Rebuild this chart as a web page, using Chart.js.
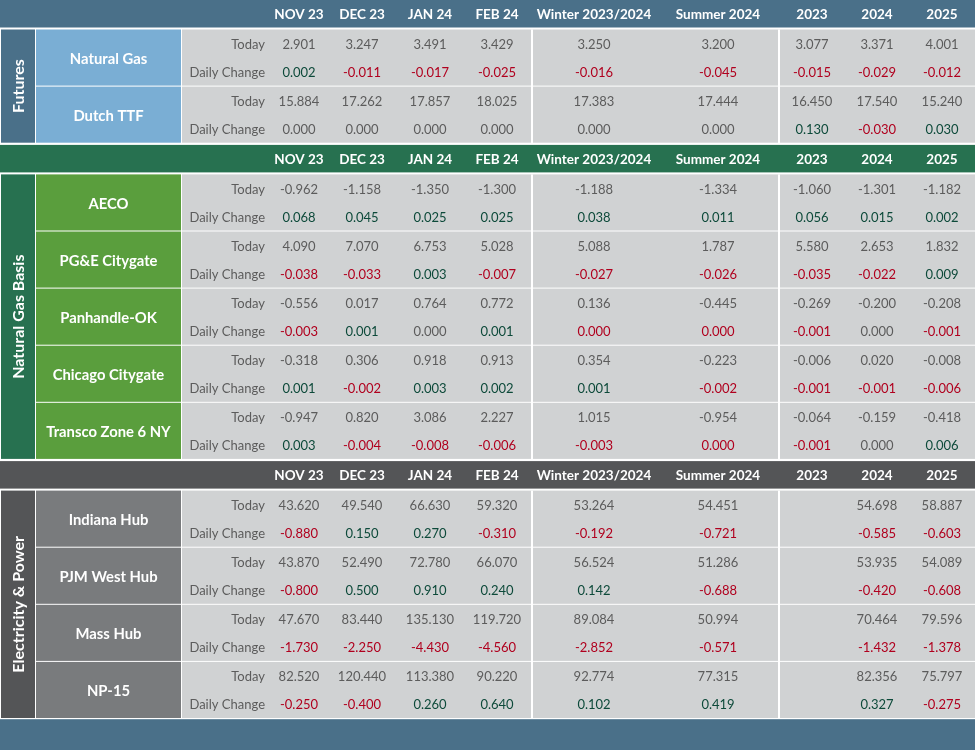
<!DOCTYPE html>
<html><head><meta charset="utf-8">
<script src="https://cdn.jsdelivr.net/npm/chart.js@4.4.0/dist/chart.umd.min.js"></script>
<style>html,body{margin:0;padding:0;background:#fff;}canvas{display:block;}</style>
</head><body>
<div style="width:975px;height:750px"><canvas id="c" width="975" height="750"></canvas></div>
<script>
// ---------- DATA ----------
const periods = ['NOV 23','DEC 23','JAN 24','FEB 24','Winter 2023/2024','Summer 2024','2023','2024','2025'];
const rowLabels = ['Today','Daily Change'];
const sectionTitles = ['Futures','Natural Gas Basis','Electricity & Power'];

const futuresNames = ['Natural Gas','Dutch TTF'];
const futuresToday = [
  [2.901,3.247,3.491,3.429,3.250,3.200,3.077,3.371,4.001],
  [15.884,17.262,17.857,18.025,17.383,17.444,16.450,17.540,15.240]
];
const futuresChange = [
  [0.002,-0.011,-0.017,-0.025,-0.016,-0.045,-0.015,-0.029,-0.012],
  [0.000,0.000,0.000,0.000,0.000,0.000,0.130,-0.030,0.030]
];

const basisNames = ['AECO','PG&E Citygate','Panhandle-OK','Chicago Citygate','Transco Zone 6 NY'];
const basisToday = [
  [-0.962,-1.158,-1.350,-1.300,-1.188,-1.334,-1.060,-1.301,-1.182],
  [4.090,7.070,6.753,5.028,5.088,1.787,5.580,2.653,1.832],
  [-0.556,0.017,0.764,0.772,0.136,-0.445,-0.269,-0.200,-0.208],
  [-0.318,0.306,0.918,0.913,0.354,-0.223,-0.006,0.020,-0.008],
  [-0.947,0.820,3.086,2.227,1.015,-0.954,-0.064,-0.159,-0.418]
];
const basisChange = [
  [0.068,0.045,0.025,0.025,0.038,0.011,0.056,0.015,0.002],
  [-0.038,-0.033,0.003,-0.007,-0.027,-0.026,-0.035,-0.022,0.009],
  [-0.003,0.001,0.000,0.001,-0.0004,-0.0004,-0.001,0.000,-0.001],
  [0.001,-0.002,0.003,0.002,0.001,-0.002,-0.001,-0.001,-0.006],
  [0.003,-0.004,-0.008,-0.006,-0.003,-0.0004,-0.001,0.000,0.006]
];

const powerNames = ['Indiana Hub','PJM West Hub','Mass Hub','NP-15'];
const powerToday = [
  [43.620,49.540,66.630,59.320,53.264,54.451,null,54.698,58.887],
  [43.870,52.490,72.780,66.070,56.524,51.286,null,53.935,54.089],
  [47.670,83.440,135.130,119.720,89.084,50.994,null,70.464,79.596],
  [82.520,120.440,113.380,90.220,92.774,77.315,null,82.356,75.797]
];
const powerChange = [
  [-0.880,0.150,0.270,-0.310,-0.192,-0.721,null,-0.585,-0.603],
  [-0.800,0.500,0.910,0.240,0.142,-0.688,null,-0.420,-0.608],
  [-1.730,-2.250,-4.430,-4.560,-2.852,-0.571,null,-1.432,-1.378],
  [-0.250,-0.400,0.260,0.640,0.102,0.419,null,0.327,-0.275]
];

// ---------- STYLE / LAYOUT ----------
const sectionData = [
  {names: futuresNames, today: futuresToday, change: futuresChange},
  {names: basisNames, today: basisToday, change: basisChange},
  {names: powerNames, today: powerToday, change: powerChange}
];
const sectionStyle = [
  {header:'#4a7089', side:'#4a7089', name:'#7aaed4'},
  {header:'#277150', side:'#277150', name:'#5a9e3d'},
  {header:'#545557', side:'#545557', name:'#797b7d'}
];
const STYLE = {
  footer:'#4a7089', data:'#d0d2d3', sep:'#ffffff',
  text:'#5c5c5c', neg:'#b0001e', pos:'#0d4a3a', white:'#ffffff',
  font:'Lato, "Open Sans", sans-serif'
};
const LAYOUT = {
  headerH:27.5, afterHeader:2, beforeHeader:1.2, rowH:57.1,
  secX:[1,35], nameX:[36,181], dataX:[182,975], labelRight:265,
  colCenters:[299,362,430,497,594,718,812,877,942],
  splitters:[531,778], splitW:2, textShift:1
};

function fmt(v){
  let s = v.toFixed(3);
  if (s === '-0.000') s = '0.000';
  return s;
}

const tablePlugin = {
  id:'tablePlugin',
  afterDraw(chart){
    const ctx = chart.ctx, xs = chart.scales.x, ys = chart.scales.y;
    const X = v => xs.getPixelForValue(v), Y = v => ys.getPixelForValue(v);
    const rect = (x0,y0,x1,y1,c) => { ctx.fillStyle=c; ctx.fillRect(X(x0),Y(y0),X(x1)-X(x0),Y(y1)-Y(y0)); };
    const text = (s,x,y,c,font,align) => { ctx.fillStyle=c; ctx.font=font; ctx.textAlign=align||'center'; ctx.textBaseline='middle'; ctx.fillText(s,X(x),Y(y)); };
    const hFont = 'bold 13.5px '+STYLE.font, vFont = '13px '+STYLE.font, nFont='bold 14.8px '+STYLE.font;
    let y = 0;
    sectionData.forEach((sec, si) => {
      const st = sectionStyle[si];
      if (si>0) y += LAYOUT.beforeHeader;
      rect(0,y,975,y+LAYOUT.headerH,st.header);
      periods.forEach((p,ci)=> text(p, LAYOUT.colCenters[ci], y+LAYOUT.headerH/2+0.5, STYLE.white, hFont));
      y += LAYOUT.headerH + LAYOUT.afterHeader;
      const top = y, n = sec.names.length, bottom = top + n*LAYOUT.rowH - 1;
      rect(LAYOUT.secX[0],top,LAYOUT.secX[1],bottom,st.side);
      ctx.save();
      ctx.translate(X((LAYOUT.secX[0]+LAYOUT.secX[1])/2+0.5), Y((top+bottom)/2));
      ctx.rotate(-Math.PI/2);
      ctx.fillStyle=STYLE.white; ctx.font='bold 16px '+STYLE.font; ctx.textAlign='center'; ctx.textBaseline='middle';
      ctx.fillText(sectionTitles[si],0,0);
      ctx.restore();
      sec.names.forEach((nm,ri)=>{
        const r0 = top + ri*LAYOUT.rowH, r1 = r0 + LAYOUT.rowH - 1;
        rect(LAYOUT.nameX[0],r0,LAYOUT.nameX[1],r1,st.name);
        rect(LAYOUT.dataX[0],r0,LAYOUT.dataX[1],r1,STYLE.data);
        text(nm,(LAYOUT.nameX[0]+LAYOUT.nameX[1])/2,(r0+r1)/2+1.5,STYLE.white,nFont);
        const yT = r0 + LAYOUT.rowH*0.25 + LAYOUT.textShift, yC = r0 + LAYOUT.rowH*0.75 - 0.5 + LAYOUT.textShift;
        text(rowLabels[0],LAYOUT.labelRight,yT,STYLE.text,vFont,'right');
        text(rowLabels[1],LAYOUT.labelRight,yC,STYLE.text,vFont,'right');
        sec.today[ri].forEach((v,ci)=>{ if(v!=null) text(fmt(v),LAYOUT.colCenters[ci],yT,STYLE.text,vFont); });
        sec.change[ri].forEach((v,ci)=>{
          if(v==null) return;
          const c = v<0 ? STYLE.neg : (v>0 ? STYLE.pos : STYLE.text);
          text(fmt(v),LAYOUT.colCenters[ci],yC,c,vFont);
        });
      });
      LAYOUT.splitters.forEach(sx=> rect(sx,top,sx+LAYOUT.splitW,bottom+1,STYLE.sep));
      y = top + n*LAYOUT.rowH;
    });
    rect(0,y+0.2,975,750,STYLE.footer);
  }
};

new Chart(document.getElementById('c'), {
  type:'scatter',
  data:{datasets:[]},
  options:{
    responsive:false, animation:false, events:[],
    layout:{padding:0},
    plugins:{legend:{display:false}, tooltip:{enabled:false}},
    scales:{
      x:{type:'linear', min:0, max:975, display:false},
      y:{type:'linear', min:0, max:750, reverse:true, display:false}
    }
  },
  plugins:[tablePlugin]
});
</script>
</body></html>
